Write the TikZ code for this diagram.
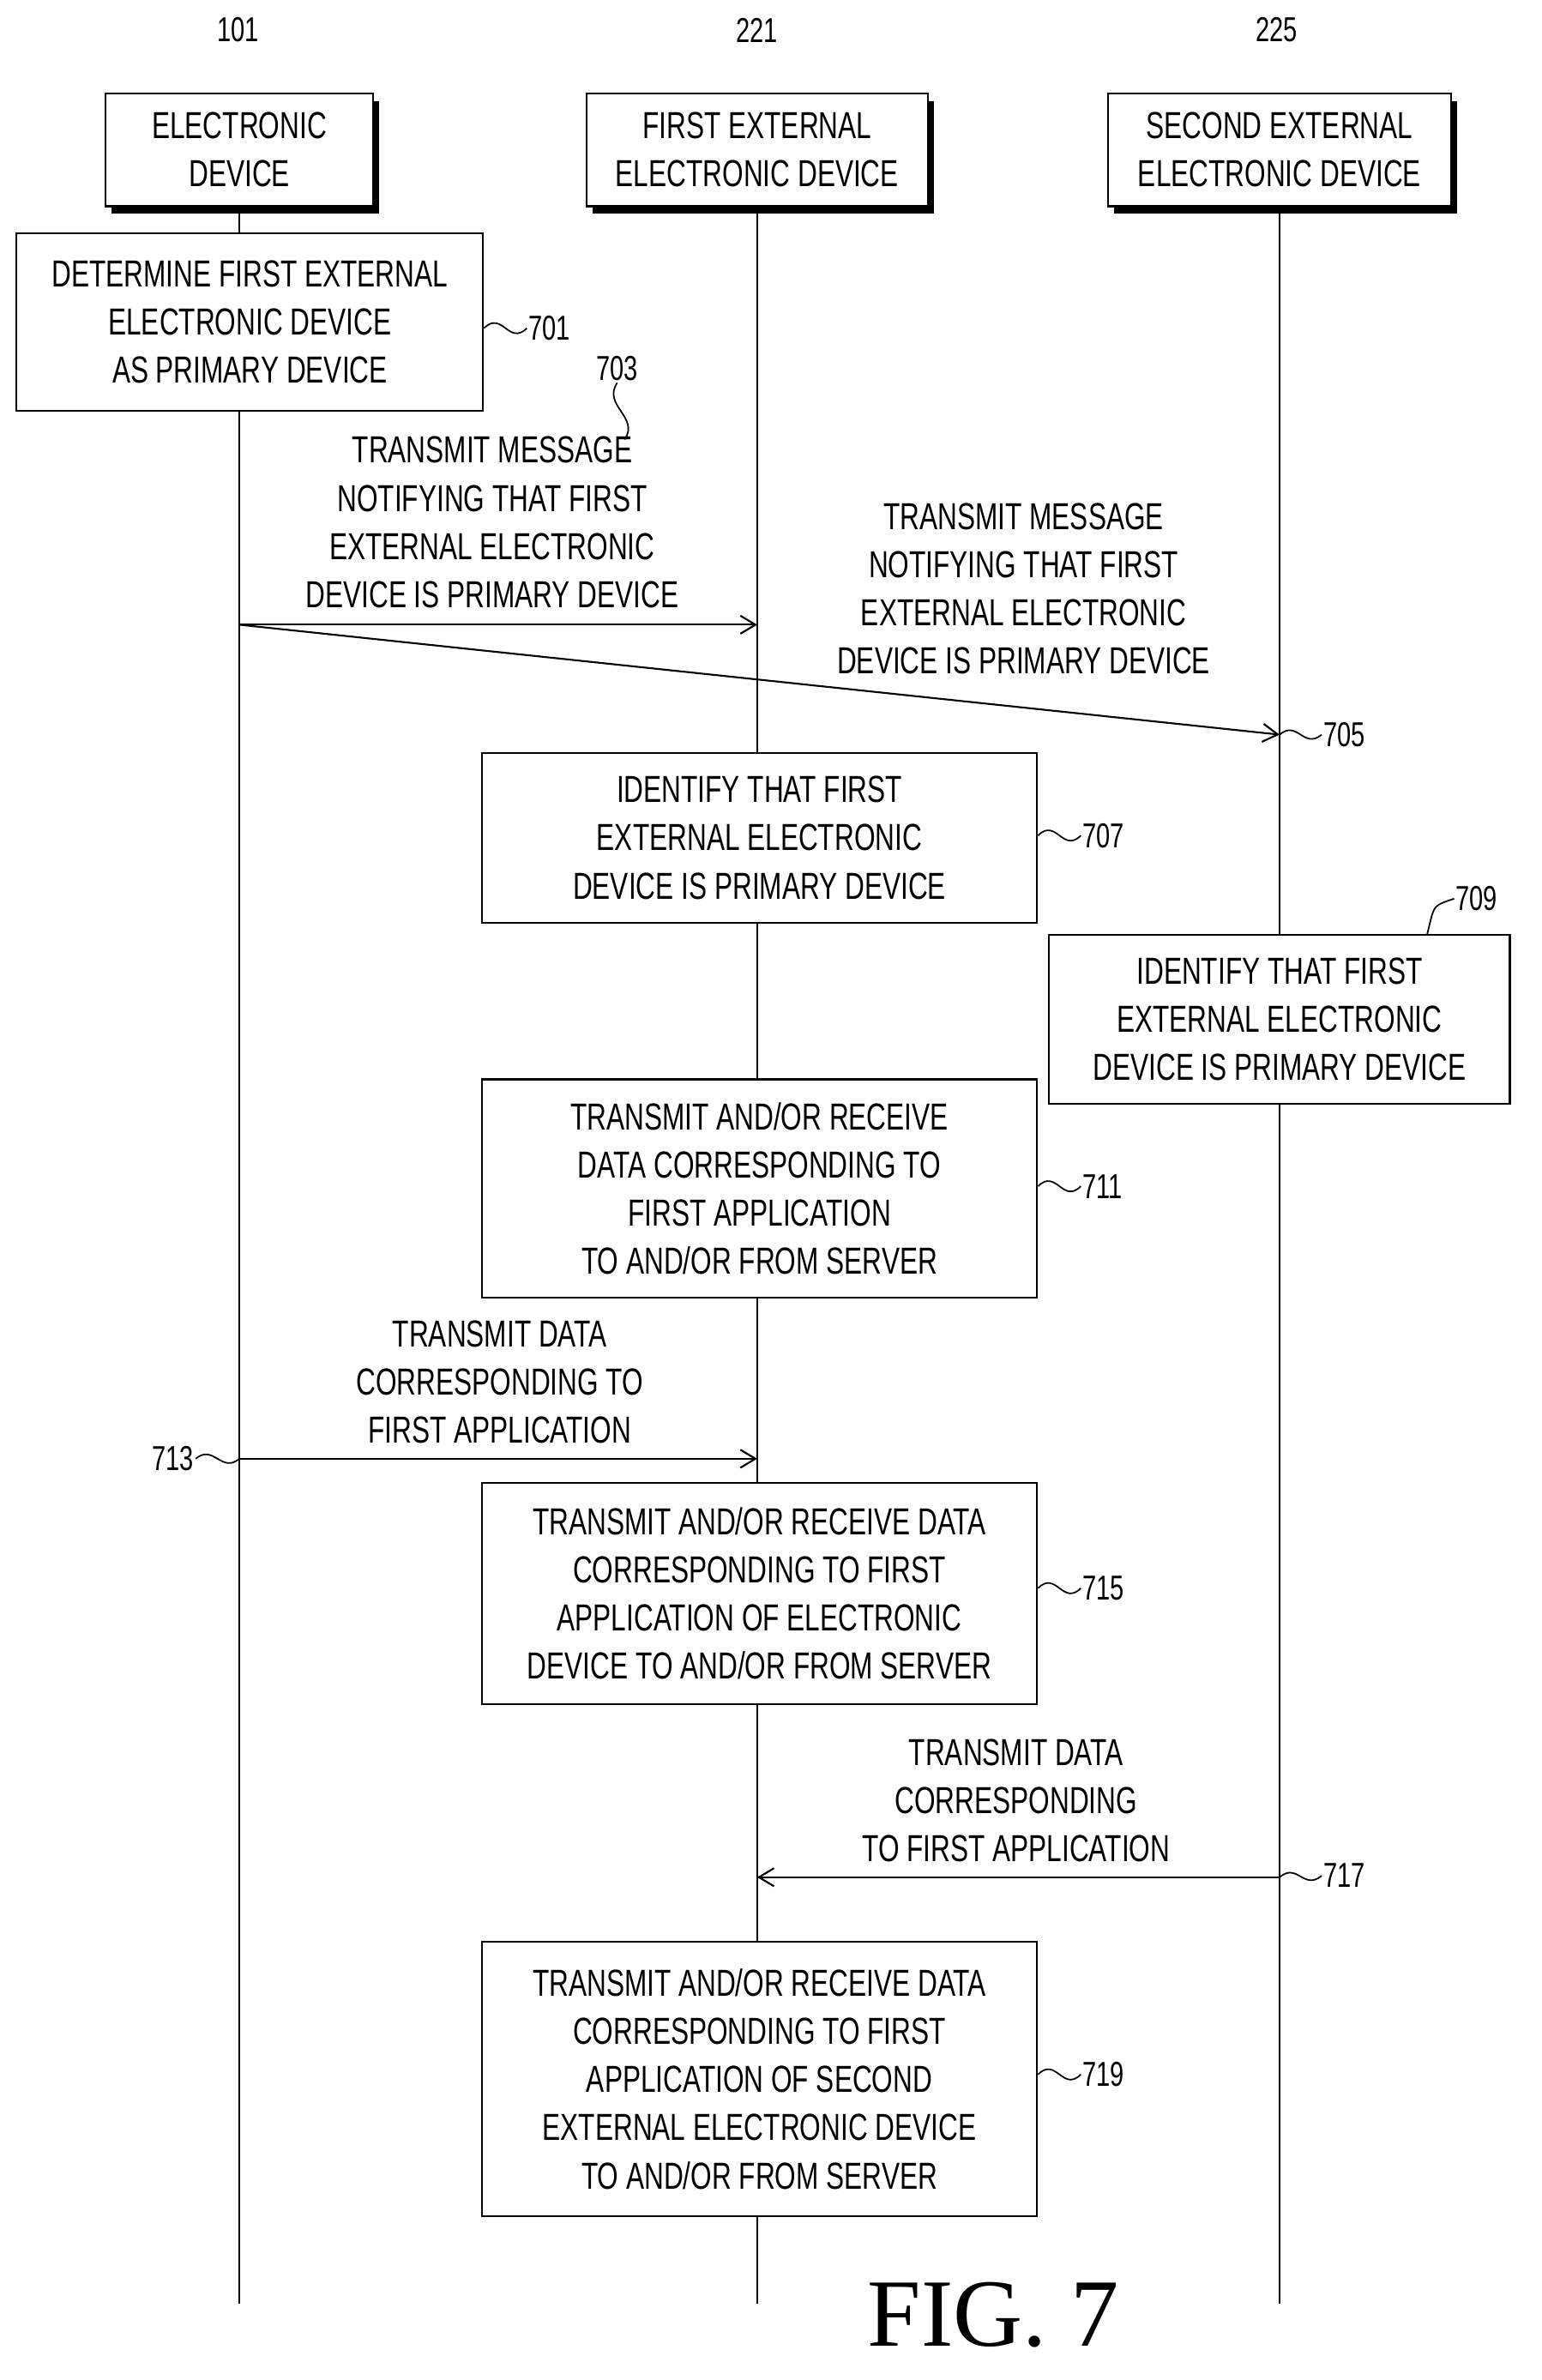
\documentclass[tikz,border=0pt]{standalone}
\usepackage{fontspec}
\usetikzlibrary{arrows.meta}
\setmainfont{Liberation Sans}[FakeStretch=0.72]
\newfontfamily\figfont{Liberation Serif}
\begin{document}
\begin{tikzpicture}[x=1pt,y=-1pt,
  txt/.style={font=\fontsize{25}{32}\selectfont,align=center,inner sep=0pt},
  box/.style={draw,line width=1.2pt,fill=white,txt,minimum width=369pt},
  lbl/.style={font=\fontsize{23}{28}\selectfont,inner sep=1pt},
  life/.style={line width=1.2pt},
  arr/.style={line width=1.2pt,-{Straight Barb[length=10pt,width=12pt]}},
  sq/.style={line width=1pt}]
\useasboundingbox (0,0) rectangle (1024,1581);
% lifelines
\coordinate (l1t) at (159,137); \coordinate (l1b) at (159,1530);
\coordinate (l2t) at (503,137); \coordinate (l2b) at (503,1530);
\coordinate (l3t) at (850,137); \coordinate (l3b) at (850,1530);
\draw[life] (l1t)--(l1b); \draw[life] (l2t)--(l2b); \draw[life] (l3t)--(l3b);
% headers
\foreach \n/\x/\w/\t in {h1/159/178/{ELECTRONIC\\DEVICE},h2/503/227/{FIRST EXTERNAL\\ELECTRONIC DEVICE},h3/850/228/{SECOND EXTERNAL\\ELECTRONIC DEVICE}}{
  \fill (\x+4,104) ++(-\w/2,-37) rectangle ++(\w,75);
  \node[draw,line width=1.2pt,fill=white,txt,minimum width=\w pt,minimum height=75pt] (\n) at (\x,99.5) {\t};
}
\node[lbl] (n101) at (158,20) {101};
\node[lbl] (n221) at (503,20) {221};
\node[lbl] (n225) at (848,20) {225};
% box 701
\node[box,minimum width=310pt,minimum height=118pt] (b701) at (166,214) {DETERMINE FIRST EXTERNAL\\ELECTRONIC DEVICE\\AS PRIMARY DEVICE};
\node[lbl,anchor=west] (n701) at (350,218) {701};
\draw[sq] (b701.east|-n701) .. controls +(12,-12) and +(-12,12) .. (n701.west);
% 703
\node[txt] (t703) at (327,347) {TRANSMIT MESSAGE\\NOTIFYING THAT FIRST\\EXTERNAL ELECTRONIC\\DEVICE IS PRIMARY DEVICE};
\node[lbl] (n703) at (410,245) {703};
\coordinate (s703) at (415,292);
\draw[sq] (n703.south) .. controls +(-10,15) and +(10,-15) .. (s703);
\coordinate (a1s) at (159,415); \coordinate (a1e) at (503,415);
\draw[arr] (a1s)--(a1e);
% 705
\node[txt] (t705) at (680,391) {TRANSMIT MESSAGE\\NOTIFYING THAT FIRST\\EXTERNAL ELECTRONIC\\DEVICE IS PRIMARY DEVICE};
\coordinate (a2e) at (850,488);
\draw[arr] (a1s)--(a2e);
\node[lbl,anchor=west] (n705) at (878,488) {705};
\draw[sq] (a2e) .. controls +(12,-10) and +(-12,10) .. (n705.west);
% 707
\node[box,minimum height=113pt] (b707) at (504.5,556.5) {IDENTIFY THAT FIRST\\EXTERNAL ELECTRONIC\\DEVICE IS PRIMARY DEVICE};
\node[lbl,anchor=west] (n707) at (718,555) {707};
\draw[sq] (b707.east|-n707) .. controls +(12,-12) and +(-12,12) .. (n707.west);
% 709
\node[box,minimum width=306pt,minimum height=112pt] (b709) at (850,677) {IDENTIFY THAT FIRST\\EXTERNAL ELECTRONIC\\DEVICE IS PRIMARY DEVICE};
\node[lbl,anchor=west] (n709) at (966,597) {709};
\coordinate (s709) at (948,621);
\draw[sq] (s709) .. controls +(5,-20) and +(-15,5) .. (n709.west);
% 711
\node[box,minimum height=145pt] (b711) at (504.5,789.5) {TRANSMIT AND/OR RECEIVE\\DATA CORRESPONDING TO\\FIRST APPLICATION\\TO AND/OR FROM SERVER};
\node[lbl,anchor=west] (n711) at (718,788) {711};
\draw[sq] (b711.east|-n711) .. controls +(12,-12) and +(-12,12) .. (n711.west);
% 713
\node[txt] (t713) at (332,918) {TRANSMIT DATA\\CORRESPONDING TO\\FIRST APPLICATION};
\coordinate (a3s) at (159,969); \coordinate (a3e) at (503,969);
\draw[arr] (a3s)--(a3e);
\node[lbl,anchor=east] (n713) at (130,969) {713};
\draw[sq] (n713.east) .. controls +(12,-10) and +(-12,10) .. (a3s);
% 715
\node[box,minimum height=147pt] (b715) at (504.5,1058.5) {TRANSMIT AND/OR RECEIVE DATA\\CORRESPONDING TO FIRST\\APPLICATION OF ELECTRONIC\\DEVICE TO AND/OR FROM SERVER};
\node[lbl,anchor=west] (n715) at (718,1055) {715};
\draw[sq] (b715.east|-n715) .. controls +(12,-12) and +(-12,12) .. (n715.west);
% 717
\node[txt] (t717) at (675,1196) {TRANSMIT DATA\\CORRESPONDING\\TO FIRST APPLICATION};
\coordinate (a4s) at (850,1247); \coordinate (a4e) at (503,1247);
\draw[arr] (a4s)--(a4e);
\node[lbl,anchor=west] (n717) at (878,1246) {717};
\draw[sq] (a4s) .. controls +(12,-10) and +(-12,10) .. (n717.west);
% 719
\node[box,minimum height=182pt] (b719) at (504.5,1381) {TRANSMIT AND/OR RECEIVE DATA\\CORRESPONDING TO FIRST\\APPLICATION OF SECOND\\EXTERNAL ELECTRONIC DEVICE\\TO AND/OR FROM SERVER};
\node[lbl,anchor=west] (n719) at (718,1378) {719};
\draw[sq] (b719.east|-n719) .. controls +(12,-12) and +(-12,12) .. (n719.west);
% fig
\node[font=\figfont\fontsize{64}{70}\selectfont,inner sep=0pt,fill=white] (fig) at (660,1538) {FIG. 7};
\end{tikzpicture}
\end{document}
